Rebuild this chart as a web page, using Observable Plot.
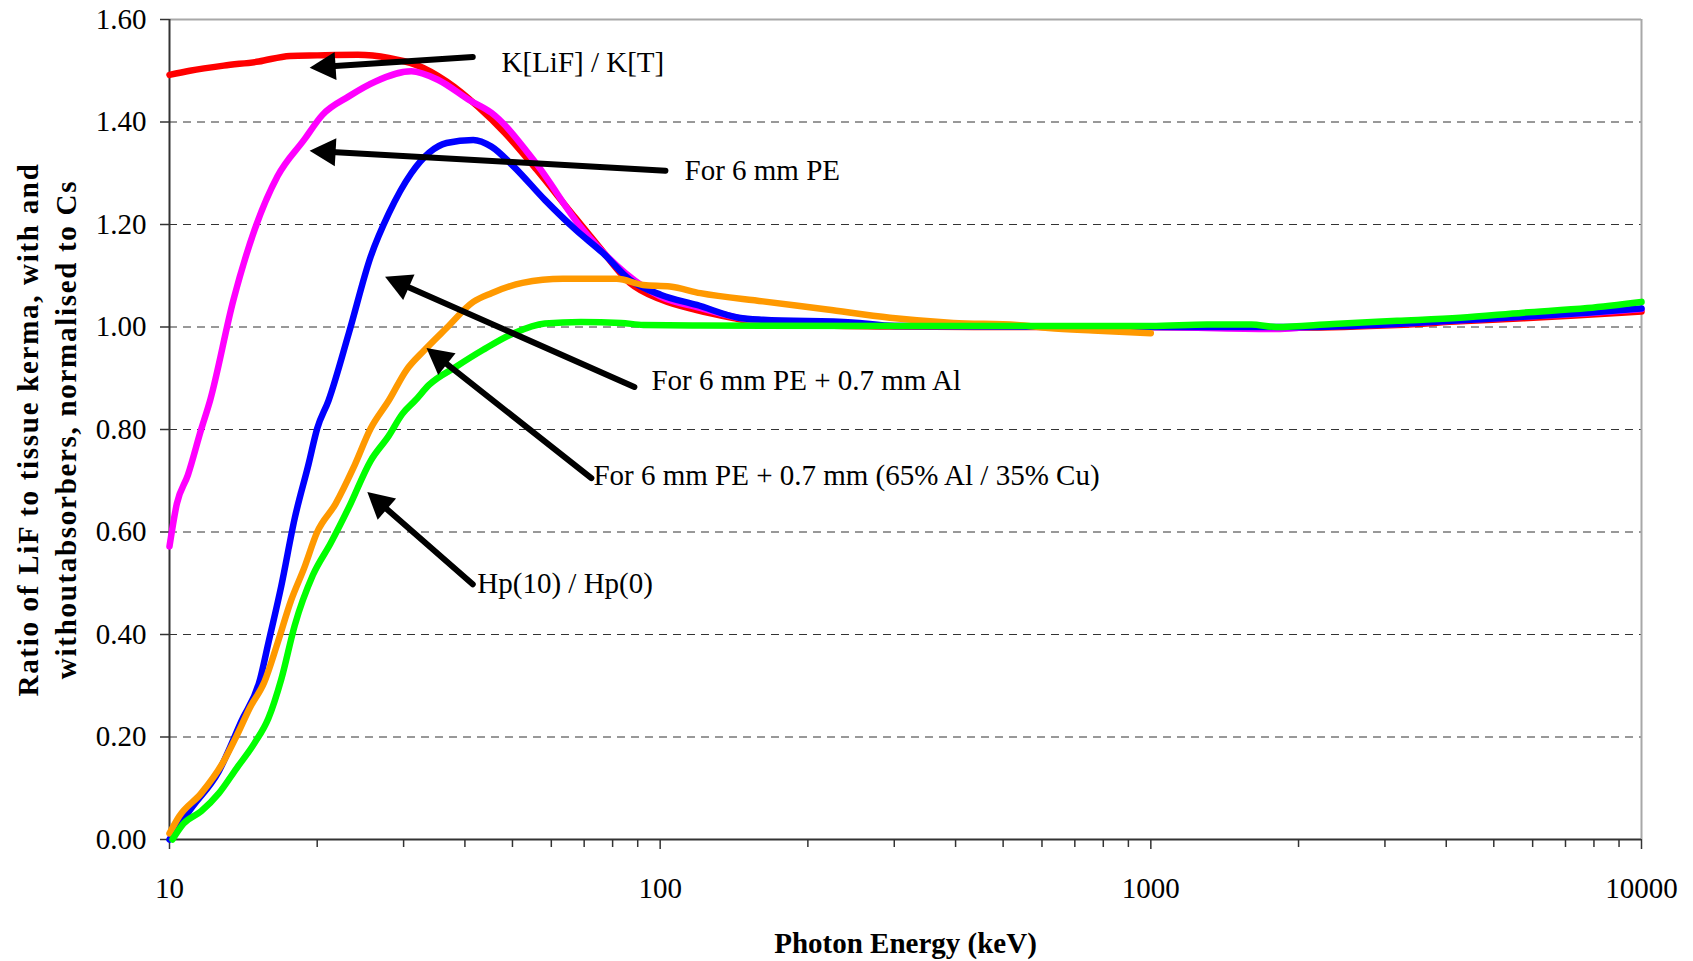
<!DOCTYPE html>
<html><head><meta charset="utf-8">
<script src="https://cdn.jsdelivr.net/npm/d3@7"></script>
<script src="https://cdn.jsdelivr.net/npm/@observablehq/plot@0.6"></script>
<style>
html,body{margin:0;padding:0;background:#fff;overflow:hidden}
</style>
</head><body><div id="chart"></div>
<script>
// ---- data (photon energy keV, ratio) ----
const energyTicks = [10, 100, 1000, 10000];
const minorTicks = [20,30,40,50,60,70,80,90,200,300,400,500,600,700,800,900,2000,3000,4000,5000,6000,7000,8000,9000];
const ratioTicks = [0, 0.2, 0.4, 0.6, 0.8, 1.0, 1.2, 1.4, 1.6];
const gridTicks = [0.2, 0.4, 0.6, 0.8, 1.0, 1.2, 1.4];

// K[LiF] / K[T]  (red)
const kLiF = [[10,1.492],[11,1.50],[12.9,1.51],[15.2,1.518],[17.6,1.529],[20,1.530],[24.2,1.531],[28,1.525],[31.7,1.512],[36.7,1.479],[42.5,1.43],[48.2,1.379],[56,1.307],[66,1.222],[75,1.157],[86.8,1.086],[100.7,1.053],[118.7,1.033],[140,1.018],[160,1.008],[200,1.004],[300,1.001],[500,1.0],[1000,1.0],[2000,0.999],[3177,1.004],[4273,1.011],[5744,1.017],[7762,1.024],[10000,1.030]];
// For 6 mm PE  (magenta)
const pe6 = [[10,0.572],[10.35,0.655],[10.9,0.711],[11.6,0.80],[12.1,0.857],[13.5,1.053],[14.9,1.189],[16.6,1.294],[18.8,1.365],[20.5,1.414],[23.2,1.450],[26.3,1.479],[31.1,1.499],[35.3,1.482],[40.8,1.443],[45.3,1.418],[55.8,1.32],[68.9,1.195],[85,1.105],[100,1.06],[120,1.038],[150,1.015],[200,1.006],[300,1.002],[1000,1.0],[1800,0.996],[2100,1.0],[3177,1.006],[4273,1.013],[5744,1.02],[7762,1.027],[10000,1.035]];
// For 6 mm PE + 0.7 mm Al  (blue)
const peAl = [[10,0.0],[11.1,0.062],[12.6,0.133],[14.0,0.230],[15.3,0.313],[15.9,0.383],[16.9,0.495],[18.0,0.627],[19.2,0.732],[20.0,0.802],[21.1,0.857],[23.2,0.988],[25.7,1.137],[28.0,1.222],[31.1,1.30],[33.8,1.34],[36.7,1.359],[41.6,1.365],[45.3,1.352],[50.3,1.313],[58.2,1.248],[67.4,1.189],[76.5,1.144],[86.8,1.092],[100.5,1.0625],[118.8,1.043],[144.6,1.018],[162,1.014],[246,1.009],[300,1.002],[1000,1.0],[2000,1.0],[3177,1.006],[4273,1.013],[5744,1.02],[7762,1.028],[10000,1.036]];
// For 6 mm PE + 0.7 mm (65% Al / 35% Cu)  (orange)
const peAlCu = [[10,0.012],[10.46,0.045],[11.6,0.09],[12.9,0.153],[13.7,0.202],[14.6,0.258],[15.6,0.307],[16.6,0.383],[17.7,0.467],[18.8,0.529],[20.0,0.600],[21.8,0.655],[23.7,0.725],[25.7,0.802],[28.0,0.857],[30.4,0.916],[33.1,0.955],[36.7,0.998],[41.6,1.049],[45.3,1.066],[52.4,1.086],[63.4,1.094],[81.5,1.094],[92.4,1.082],[104.7,1.079],[120.8,1.066],[162,1.050],[219,1.034],[294,1.018],[396,1.008],[533,1.004],[618,0.998],[762,0.993],[1000,0.988]];
// Hp(10) / Hp(0)  (green)
const hp = [[10.14,0.0],[10.68,0.031],[11.6,0.055],[12.6,0.09],[13.7,0.139],[14.9,0.188],[15.9,0.236],[16.9,0.313],[18.0,0.418],[19.6,0.516],[21.3,0.578],[23.2,0.648],[25.7,0.739],[28.0,0.788],[29.8,0.830],[31.7,0.857],[33.8,0.887],[38.3,0.922],[43.5,0.955],[50.3,0.988],[58.2,1.007],[68.9,1.010],[83.2,1.008],[92.4,1.004],[120.8,1.003],[300,1.002],[1000,1.002],[1303,1.005],[1603,1.005],[1800,1.0],[2355,1.006],[3177,1.012],[4273,1.018],[5744,1.028],[7762,1.037],[10000,1.049]];

// annotations (data coordinates)
const annoLabels = ["K[LiF] / K[T]", "For 6 mm PE", "For 6 mm PE + 0.7 mm Al", "For 6 mm PE + 0.7 mm (65% Al / 35% Cu)", "Hp(10) / Hp(0)"];
const annoTextE = [47.5, 112.1, 96.0, 73.1, 42.4];
const annoTextR = [1.516, 1.305, 0.896, 0.709, 0.500];
const arrowTailE = [41.5, 102.5, 88.6, 72.4, 41.5];
const arrowTailR = [1.527, 1.305, 0.883, 0.705, 0.498];
const arrowHeadE = [19.3, 19.3, 27.5, 33.4, 25.3];
const arrowHeadR = [1.506, 1.344, 1.098, 0.959, 0.678];

const yTitleLines = ["Ratio of LiF to tissue kerma, with and", "withoutabsorbers, normalised to Cs"];
const xTitle = "Photon Energy (keV)";

// ---- layout ----
const W = 1693, H = 961, ML = 169, MR = 52, MT = 19, MB = 122;
const FONT = "'Times New Roman', 'Liberation Serif', serif";

const xScale = Plot.scale({x: {type: "log", domain: [10, 10000], range: [ML, W - MR]}});
const yScale = Plot.scale({y: {type: "linear", domain: [0, 1.6], range: [H - MB, MT]}});

const labels = annoLabels.map((t, i) => ({text: t, e: annoTextE[i], r: annoTextR[i]}));
const arrows = annoLabels.map((t, i) => {
  const dx = xScale.apply(arrowHeadE[i]) - xScale.apply(arrowTailE[i]);
  const dy = yScale.apply(arrowHeadR[i]) - yScale.apply(arrowTailR[i]);
  return {e1: arrowTailE[i], r1: arrowTailR[i], e2: arrowHeadE[i], r2: arrowHeadR[i],
          angle: Math.atan2(dx, -dy) * 180 / Math.PI};
});

const headSymbol = {
  draw(context, size) {
    context.moveTo(0, 0);
    context.lineTo(14, 26);
    context.lineTo(-14, 26);
    context.closePath();
  }
};

const line = (data, color) => Plot.line(data, {x: d => d[0], y: d => d[1], stroke: color, strokeWidth: 6.5, strokeLinejoin: "round", curve: "monotone-x"});

const chart = Plot.plot({
  width: W, height: H,
  marginLeft: ML, marginRight: MR, marginTop: MT, marginBottom: MB,
  style: {fontFamily: FONT, fontSize: "29px", color: "black", background: "white", overflow: "visible"},
  x: {type: "log", domain: [10, 10000]},
  y: {type: "linear", domain: [0, 1.6]},
  marks: [
    Plot.gridY(gridTicks, {stroke: "#333", strokeOpacity: 1, strokeWidth: 1, strokeDasharray: "8,6"}),
    Plot.ruleY([1.6], {stroke: "#a8a8a8", strokeWidth: 2}),
    Plot.ruleX([10000], {stroke: "#a8a8a8", strokeWidth: 2}),
    Plot.axisY(ratioTicks, {tickSize: 9, tickPadding: 14, tickFormat: d => d.toFixed(2), fontSize: 29, stroke: "#333", strokeWidth: 1.5, label: null}),
    Plot.axisX(energyTicks, {tickSize: 10, tickPadding: 28, tickFormat: d => String(d), fontSize: 29, stroke: "#333", strokeWidth: 1.5, label: null}),
    Plot.axisX(minorTicks, {tickSize: 8, tickFormat: () => "", stroke: "#333", strokeWidth: 1.5, label: null}),
    Plot.ruleX([10], {stroke: "#333", strokeWidth: 2}),
    Plot.ruleY([0], {stroke: "#333", strokeWidth: 2}),
    line(kLiF, "#ff0000"),
    line(pe6, "#ff00ff"),
    line(peAl, "#0000ff"),
    line(peAlCu, "#ff9900"),
    line(hp, "#00ff00"),
    Plot.arrow(arrows, {x1: "e1", y1: "r1", x2: "e2", y2: "r2", stroke: "black", strokeWidth: 6, headLength: 0, insetEnd: 22, strokeLinecap: "round"}),
    Plot.dot(arrows, {x: "e2", y: "r2", rotate: "angle", symbol: headSymbol, r: 10, fill: "black", stroke: "none"}),
    Plot.text(labels, {x: "e", y: "r", text: "text", textAnchor: "start", lineAnchor: "middle", fontSize: 29, fill: "black"}),
    Plot.text([yTitleLines[0]], {text: d => d, frameAnchor: "left", textAnchor: "middle", lineAnchor: "middle", rotate: -90, dx: -141, fontSize: 29, fontWeight: "bold", fill: "black"}),
    Plot.text([yTitleLines[1]], {text: d => d, frameAnchor: "left", textAnchor: "middle", lineAnchor: "middle", rotate: -90, dx: -103, fontSize: 29, fontWeight: "bold", fill: "black"}),
    Plot.text([xTitle], {text: d => d, frameAnchor: "bottom", lineAnchor: "middle", dy: 104, fontSize: 29, fontWeight: "bold", fill: "black"})
  ]
});
d3.select(chart).selectAll("text")
  .filter(function() { return yTitleLines.includes(this.textContent); })
  .attr("letter-spacing", "1.7");
document.getElementById("chart").appendChild(chart);
</script>
</body></html>
